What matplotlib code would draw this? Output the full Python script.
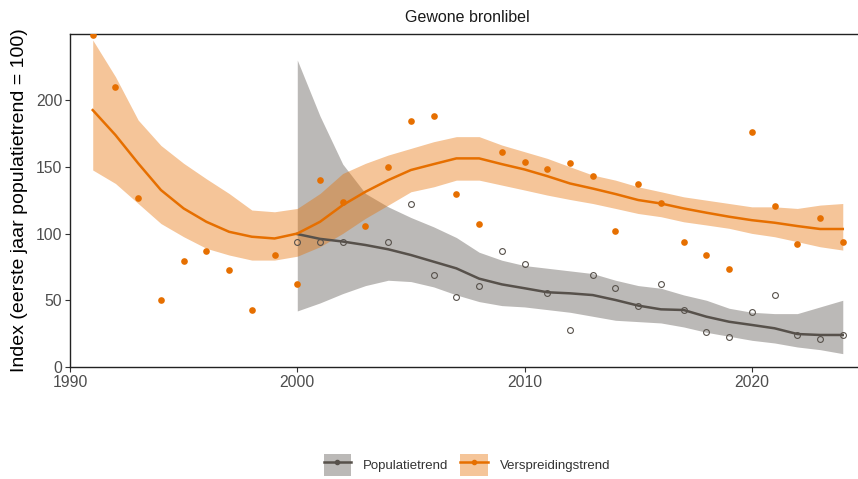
import numpy as np
import matplotlib
matplotlib.use("Agg")
import matplotlib.pyplot as plt
from matplotlib.patches import Patch
from matplotlib.lines import Line2D

plt.rcParams['font.family'] = ['Liberation Sans', 'DejaVu Sans']

title = "Gewone bronlibel"
ylabel = "Index (eerste jaar populatietrend = 100)"
series_names = ["Populatietrend", "Verspreidingstrend"]

# Verspreidingstrend (orange)
years_v = list(range(1991, 2025))
vers_points = [249, 210, 126.6, 50, 79.7, 86.7, 72.9, 42.9, 83.9, 62,
               140, 124, 106, 149.5, 184, 188, 129.3, 107.4, 160.8, 153.8,
               148.3, 152.6, 143, 101.9, 137.3, 122.6, 93.6, 83.9, 73.2, 175.8,
               120.8, 92.1, 111.4, 93.6]
vers_trend = [192.5, 173.8, 152.6, 132.6, 118.8, 108.8, 101.3, 97.6, 96.3, 100,
              108.8, 121.3, 131.3, 140, 147.6, 152, 156.3, 156.3, 152, 148,
              143, 137.5, 133.7, 129.6, 125.1, 122.5, 118.8, 115.6, 112.6, 110,
              108.1, 105.6, 103.4, 103.4]
vers_upper = [245, 217.5, 185, 166, 152.6, 141, 130, 117.6, 116.3, 118.8,
              130, 145, 152.6, 158.8, 163.8, 168.8, 172.6, 172.6, 166.3, 161.3,
              156.3, 150, 143.8, 140, 135, 131.3, 127.5, 125, 122.5, 120,
              120, 118.8, 121.3, 122.5]
vers_lower = [147.6, 137.5, 122.5, 107.5, 97.6, 88.9, 83.9, 80.1, 80.1, 83,
              90.1, 100.1, 111.4, 121.3, 131.3, 135, 140, 140, 136.3, 132.6,
              128.8, 125.5, 122.5, 118.8, 115, 112.6, 108.8, 106.4, 103.9, 100.1,
              97.6, 93.9, 90.1, 87.6]

# Populatietrend (grey)
years_p = list(range(2000, 2025))
pop_points = [93.6, 93.6, 93.4, np.nan, 93.4, 122.3, 68.6, 52.4, 60.4, 86.6,
              77.2, 55.2, 28, 68.6, 59.4, 46, 61.9, 43, 26.2, 22.5,
              41.4, 53.7, 23.7, 20.7, 24]
pop_trend = [99.6, 96, 94, 91.4, 88.2, 83.9, 78.9, 73.9, 66.2, 61.9,
             59, 56, 55.2, 53.9, 50.2, 46, 43.2, 42.7, 37.7, 33.9,
             31.5, 29, 24.7, 24, 24]
pop_upper = [230, 188, 152, 130, 120, 112, 105, 97, 86, 80,
             76, 74, 72, 70, 65, 61, 59, 54, 50, 44,
             41, 40, 40, 45, 50]
pop_lower = [42, 48, 55, 61, 65, 64, 60, 54, 49, 46,
             45, 43, 41, 38, 35, 34, 33, 30, 26, 23,
             20, 18, 15, 13, 10]

xticks = [1990, 2000, 2010, 2020]
yticks = [0, 50, 100, 150, 200]

ORANGE = "#E66F00"
GREY = "#57514B"

W, H = 858, 479
fig = plt.figure(figsize=(W / 100, H / 100), dpi=100)
ax = fig.add_axes([70 / W, (H - 367) / H, (858 - 70) / W, (367 - 34) / H])

ax.fill_between(years_p, pop_lower, pop_upper, color=GREY, alpha=0.4, lw=0, zorder=1)
ax.fill_between(years_v, vers_lower, vers_upper, color=ORANGE, alpha=0.4, lw=0, zorder=2)
ax.plot(years_p, pop_trend, color=GREY, lw=1.8, zorder=3)
ax.plot(years_v, vers_trend, color=ORANGE, lw=1.8, zorder=3)
ax.plot(years_p, pop_points, ls='none', marker='o', ms=4.2, mfc='none',
        mec=GREY, mew=0.8, zorder=4)
ax.plot(years_v, vers_points, ls='none', marker='o', ms=4.8, mfc=ORANGE,
        mec=ORANGE, mew=0, zorder=5)

ax.set_xlim(1990, 2024.67)
ax.set_ylim(0, 249.5)
ax.set_xticks(xticks)
ax.set_yticks(yticks)
ax.spines['right'].set_visible(False)
for s in ['left', 'bottom', 'top']:
    ax.spines[s].set_linewidth(1.0)
    ax.spines[s].set_color('#222222')
ax.tick_params(axis='both', length=3.5, width=0.8, color='#333333',
               labelsize=11.3, labelcolor='#4D4D4D', pad=2)
ax.set_ylabel(ylabel, fontsize=14, color='black', labelpad=6)

fig.text(467 / W, 1 - 18 / H, title, ha='center', va='center', fontsize=11.5, color='#1A1A1A')

handles = [
    (Patch(facecolor=GREY, alpha=0.4, lw=0),
     Line2D([], [], color=GREY, lw=1.8, marker='o', ms=3, mfc=GREY, mec=GREY)),
    (Patch(facecolor=ORANGE, alpha=0.4, lw=0),
     Line2D([], [], color=ORANGE, lw=1.8, marker='o', ms=3, mfc=ORANGE, mec=ORANGE)),
]
fig.legend(handles, series_names, loc='center', bbox_to_anchor=(467 / W, 1 - 465 / H),
           ncol=2, frameon=False, fontsize=9.5, handlelength=2.1, handleheight=2.1,
           handletextpad=0.9, columnspacing=0.9, labelcolor='#333333')

fig.savefig("out.png", dpi=100)
